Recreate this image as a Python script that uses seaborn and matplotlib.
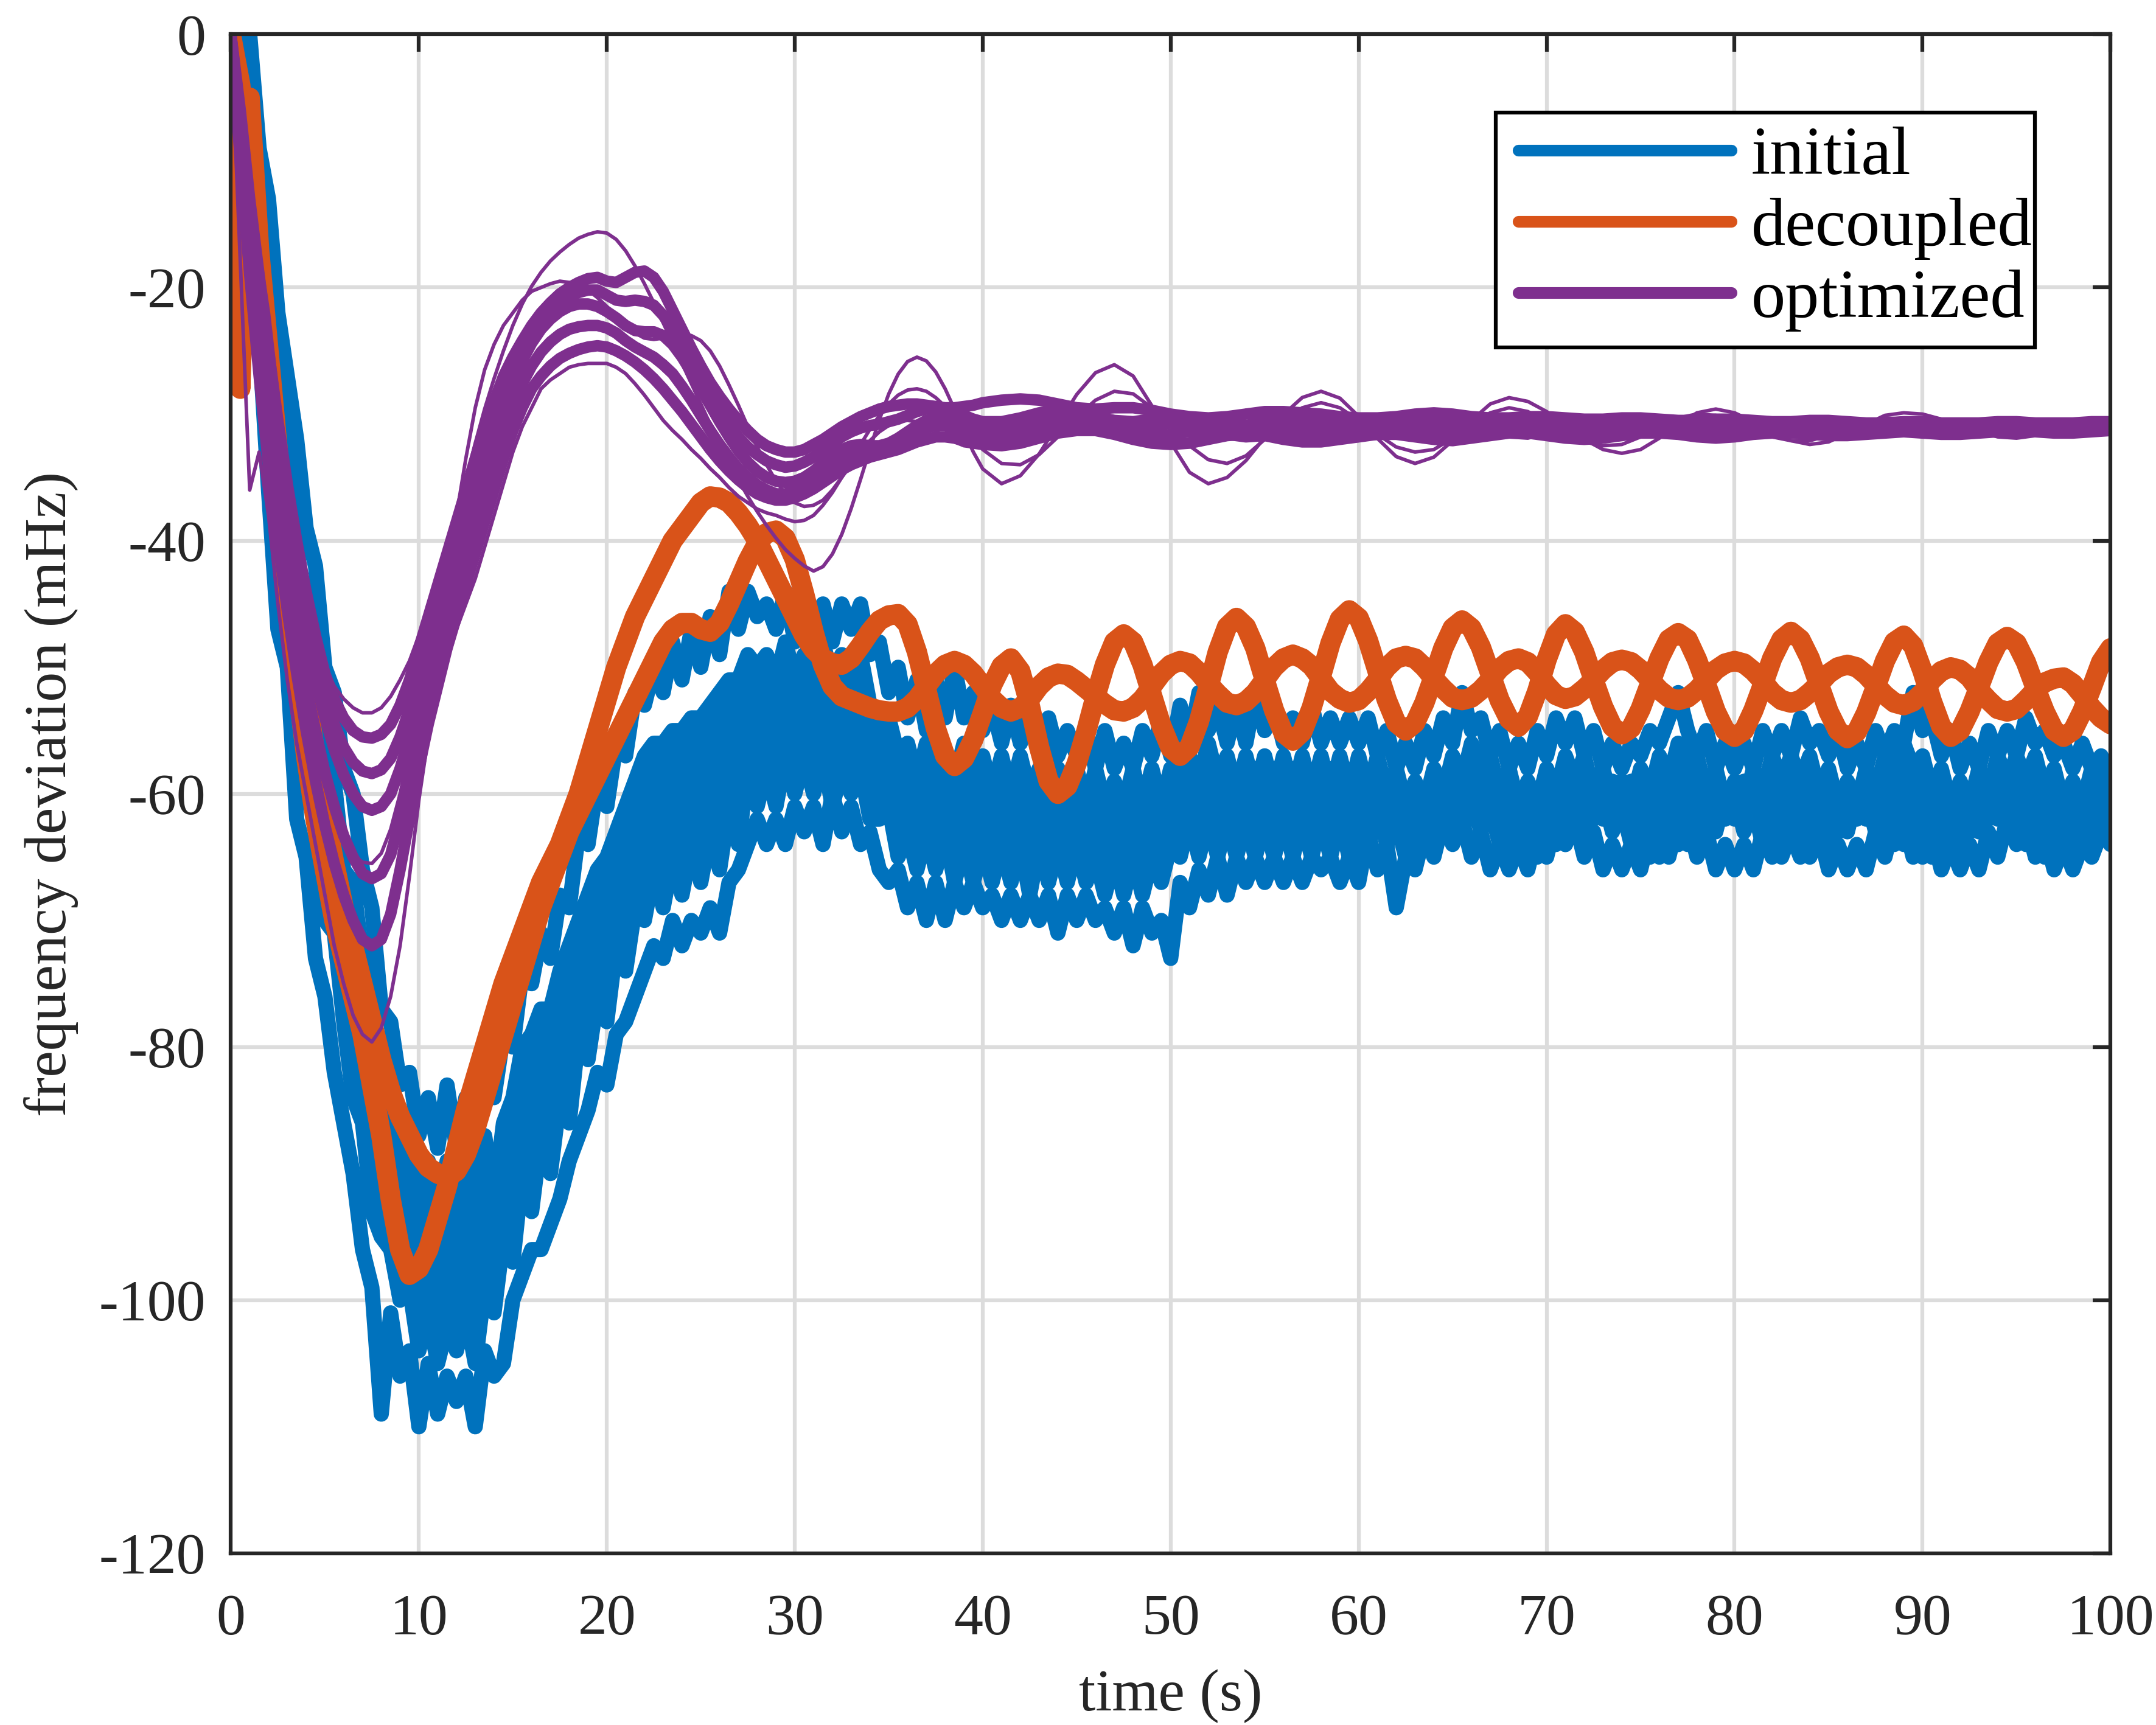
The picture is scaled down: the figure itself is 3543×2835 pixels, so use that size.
import numpy as np
import pandas as pd
import matplotlib
matplotlib.use("Agg")
import matplotlib.pyplot as plt
import seaborn as sns
from matplotlib.lines import Line2D
from matplotlib.patches import Rectangle

# ---------------- data ----------------
# sample grids
time_fine = np.arange(0, 100.5, 0.5)                     # 201 samples
time_purple = np.concatenate([np.arange(0, 40.5, 0.5),   # 81 samples
                              np.arange(41, 101, 1)])    # + 60 samples

series_labels = ["initial", "decoupled", "optimized"]

# ----- initial (blue), 0.5 s samples -----
initial_1 = [
    0, -1, 0, -9, -13, -22, -27, -32, -39, -42, -50, -52, -58, -60, -66, -69, -77, -78, -83, -82,
    -87, -84, -88, -83, -88, -84, -87, -82, -84, -79, -80, -74, -75, -71, -73, -68, -69, -63, -64, -59,
    -61, -56, -57, -52, -53, -50, -52, -48, -51, -47, -50, -46, -49, -44, -47, -44, -46, -45, -47, -44,
    -48, -45, -47, -45, -48, -45, -47, -45, -49, -48, -52, -50, -54, -51, -55, -51, -54, -50, -54, -52,
    -55, -53, -56, -53, -56, -54, -57, -54, -57, -55, -57, -55, -58, -55, -58, -56, -58, -55, -57, -54,
    -57, -53, -56, -52, -55, -53, -56, -53, -56, -52, -55, -53, -56, -54, -56, -53, -56, -54, -56, -54,
    -56, -54, -57, -55, -58, -56, -58, -55, -57, -54, -56, -52, -55, -54, -57, -55, -58, -56, -58, -55,
    -57, -54, -56, -54, -57, -55, -58, -56, -58, -56, -57, -55, -56, -54, -52, -55, -57, -55, -58, -56,
    -58, -56, -58, -55, -57, -55, -57, -54, -56, -55, -57, -55, -58, -56, -58, -55, -57, -55, -56, -52,
    -55, -54, -57, -55, -58, -56, -58, -55, -57, -55, -57, -54, -56, -55, -57, -56, -58, -56, -58, -57,
    -59]
initial_2 = [
    0, -2, -5, -10, -21, -24, -35, -40, -48, -51, -56, -59, -66, -67, -73, -76, -83, -82, -89, -87,
    -92, -89, -94, -89, -93, -88, -93, -87, -92, -86, -84, -80, -79, -77, -77, -74, -72, -70, -68, -66,
    -65, -63, -61, -59, -57, -56, -56, -55, -55, -54, -54, -53, -52, -51, -51, -49, -50, -49, -51, -48,
    -51, -49, -51, -48, -51, -49, -52, -49, -53, -55, -54, -57, -56, -59, -56, -59, -57, -59, -56, -59,
    -57, -60, -57, -60, -57, -60, -58, -61, -58, -61, -58, -61, -58, -61, -59, -61, -58, -61, -58, -61,
    -58, -59, -57, -59, -56, -59, -57, -60, -57, -60, -57, -60, -57, -60, -57, -60, -57, -60, -57, -60,
    -57, -60, -57, -60, -58, -61, -59, -61, -58, -60, -57, -59, -56, -58, -57, -60, -58, -61, -59, -61,
    -58, -60, -57, -59, -57, -60, -58, -61, -59, -61, -58, -60, -57, -59, -56, -58, -57, -60, -58, -61,
    -59, -61, -58, -60, -57, -59, -57, -59, -57, -60, -58, -61, -59, -61, -58, -60, -57, -59, -56, -58,
    -57, -60, -58, -61, -59, -61, -58, -60, -57, -59, -57, -59, -57, -60, -58, -61, -59, -61, -58, -60,
    -58]
initial_3 = [
    0, -3, -8, -17, -22, -34, -37, -50, -52, -60, -60, -68, -68, -76, -76, -84, -85, -92, -91, -97,
    -94, -99, -95, -100, -95, -99, -94, -98, -92, -94, -87, -89, -82, -86, -80, -82, -76, -78, -71, -74,
    -68, -71, -64, -67, -60, -64, -59, -63, -58, -62, -57, -61, -56, -60, -54, -57, -52, -57, -53, -56,
    -53, -56, -52, -57, -53, -56, -53, -58, -55, -56, -60, -58, -62, -59, -63, -59, -62, -59, -63, -60,
    -63, -60, -63, -59, -63, -60, -64, -60, -63, -60, -64, -60, -63, -60, -64, -61, -64, -60, -63, -60,
    -62, -58, -62, -58, -62, -58, -62, -59, -62, -58, -62, -58, -62, -58, -62, -59, -62, -58, -62, -59,
    -62, -59, -63, -60, -63, -61, -64, -62, -64, -61, -63, -60, -62, -59, -61, -59, -62, -60, -63, -61,
    -64, -62, -64, -61, -63, -60, -62, -59, -61, -59, -62, -60, -63, -61, -64, -62, -64, -61, -63, -60,
    -62, -59, -61, -59, -62, -60, -63, -61, -64, -62, -64, -61, -63, -60, -62, -59, -61, -59, -62, -60,
    -63, -61, -64, -62, -64, -61, -63, -60, -62, -59, -61, -59, -62, -60, -63, -61, -64, -62, -63, -61,
    -62]
initial_4 = [
    0, -4, -11, -19, -31, -37, -48, -51, -60, -62, -70, -71, -78, -84, -86, -93, -95, -96, -100, -99,
    -104, -101, -105, -102, -104, -101, -105, -99, -101, -95, -97, -90, -93, -87, -90, -84, -86, -79, -81, -76,
    -78, -72, -74, -69, -70, -66, -69, -65, -68, -64, -67, -63, -66, -61, -64, -58, -61, -58, -61, -57,
    -60, -57, -60, -57, -61, -58, -60, -58, -62, -62, -61, -65, -63, -66, -63, -66, -63, -67, -64, -67,
    -64, -67, -64, -67, -64, -68, -64, -67, -64, -67, -64, -67, -65, -68, -65, -68, -65, -68, -65, -67,
    -64, -65, -62, -65, -62, -65, -62, -65, -62, -65, -62, -65, -62, -65, -62, -65, -62, -65, -62, -65,
    -63, -64, -61, -64, -62, -65, -62, -64, -61, -63, -60, -62, -60, -63, -61, -64, -62, -65, -63, -65,
    -62, -64, -61, -63, -60, -62, -60, -63, -61, -64, -62, -65, -63, -65, -62, -64, -61, -63, -60, -62,
    -60, -63, -61, -64, -62, -65, -63, -65, -62, -64, -61, -63, -60, -62, -60, -63, -61, -64, -62, -65,
    -63, -65, -62, -64, -61, -63, -60, -62, -60, -63, -61, -64, -62, -65, -63, -65, -62, -64, -61, -63,
    -60]
initial_5 = [
    0, -5, -13, -24, -36, -47, -50, -62, -65, -73, -76, -82, -86, -90, -96, -99, -109, -101, -106, -104,
    -110, -105, -109, -106, -108, -106, -110, -104, -106, -105, -100, -98, -96, -96, -94, -92, -89, -87, -85, -82,
    -83, -79, -78, -76, -74, -72, -73, -70, -72, -70, -71, -69, -71, -67, -66, -64, -62, -64, -62, -64,
    -61, -63, -61, -64, -60, -63, -61, -64, -63, -66, -67, -66, -69, -67, -70, -67, -70, -67, -69, -67,
    -69, -68, -70, -68, -70, -68, -70, -68, -71, -68, -70, -68, -70, -69, -71, -69, -72, -69, -71, -70,
    -73, -67, -69, -66, -68, -65, -68, -65, -67, -65, -67, -65, -67, -65, -67, -65, -66, -65, -67, -65,
    -67, -63, -66, -64, -69, -65, -66, -63, -65, -62, -64, -62, -65, -63, -66, -64, -66, -64, -66, -63,
    -65, -62, -64, -62, -65, -63, -66, -64, -66, -64, -66, -63, -65, -62, -64, -62, -65, -63, -66, -64,
    -66, -64, -66, -63, -65, -62, -64, -62, -65, -63, -66, -64, -66, -64, -66, -63, -65, -62, -64, -62,
    -65, -63, -66, -64, -66, -64, -66, -63, -65, -62, -64, -62, -65, -63, -66, -64, -66, -64, -65, -63,
    -64]

# ----- decoupled (orange), 0.5 s samples -----
decoupled_1 = [
    0, -4, -11, -21, -30, -38, -45, -51, -57, -62, -66, -70, -73, -76, -79, -83, -87, -92, -96, -98,
    -97.5, -96, -93.5, -91, -88, -85, -82.5, -80, -77.5, -75, -73, -71, -69, -67, -65.5, -64, -62, -60, -57.5, -55,
    -52.5, -50, -48, -46, -44.5, -43, -41.5, -40, -39, -38, -37, -36.5, -36.6, -37, -37.8, -38.8, -40, -41.5, -43, -44.5,
    -46, -47.5, -48.6, -49.3, -49.7, -49.8, -49.3, -48.3, -47.2, -46.3, -45.9, -45.8, -46.6, -48.8, -51.8, -54.8, -57.0, -57.8, -57.2, -55.7,
    -53.6, -51.4, -49.9, -49.3, -50.3, -53.0, -56.3, -59.0, -60.0, -59.4, -57.6, -55.1, -52.3, -49.8, -48.0, -47.4, -48.0, -49.8, -52.2, -54.6,
    -56.4, -57.0, -56.3, -54.3, -51.6, -48.8, -46.8, -46.1, -46.8, -48.5, -51.0, -53.4, -55.2, -55.8, -55.1, -53.2, -50.7, -48.1, -46.2, -45.5,
    -46.1, -47.9, -50.3, -52.6, -54.4, -55.0, -54.4, -52.8, -50.7, -48.5, -46.9, -46.3, -46.9, -48.4, -50.5, -52.6, -54.1, -54.7, -53.9, -51.9,
    -49.4, -47.4, -46.6, -47.2, -48.8, -51.0, -53.1, -54.7, -55.3, -54.8, -53.3, -51.3, -49.3, -47.8, -47.3, -47.8, -49.4, -51.4, -53.5, -55.0,
    -55.5, -55.0, -53.4, -51.4, -49.3, -47.8, -47.2, -47.8, -49.3, -51.4, -53.5, -55.0, -55.6, -55.1, -53.6, -51.6, -49.5, -48.0, -47.5, -48.3,
    -50.3, -52.7, -54.7, -55.5, -55.0, -53.5, -51.6, -49.6, -48.1, -47.6, -48.1, -49.6, -51.6, -53.5, -55.0, -55.5, -55.0, -53.5, -51.6, -49.6,
    -48.5]
decoupled_2 = [
    0, -28, -5, -17, -25, -33, -40, -46, -52, -57, -61.5, -65.5, -69, -72, -75, -78, -81, -83.5, -85.5, -87,
    -88.5, -89.5, -90, -90.3, -89.8, -88.5, -86.5, -84, -81.5, -79, -76.5, -74, -71.5, -69, -67, -65, -63, -61.5, -60, -58.5,
    -57, -55.5, -54, -52.5, -51, -49.5, -48, -47, -46.5, -46.5, -47, -47.2, -46.5, -45, -43.3, -41.6, -40.2, -39.4, -39.2, -39.8,
    -41.5, -44.2, -47.2, -49.8, -51.5, -52.3, -52.6, -52.9, -53.2, -53.4, -53.5, -53.5, -53.2, -52.5, -51.5, -50.5, -49.8, -49.5, -49.8, -50.5,
    -51.5, -52.5, -53.2, -53.5, -53.2, -52.5, -51.5, -50.8, -50.5, -50.6, -51.1, -51.7, -52.3, -52.9, -53.4, -53.5, -53.2, -52.5, -51.5, -50.5,
    -49.8, -49.5, -49.7, -50.4, -51.3, -52.1, -52.8, -53.0, -52.7, -52.0, -51.0, -50.0, -49.3, -49.0, -49.3, -49.9, -50.9, -51.9, -52.5, -52.8,
    -52.6, -51.9, -51.0, -50.0, -49.3, -49.1, -49.3, -50.0, -50.9, -51.7, -52.4, -52.6, -52.4, -51.8, -51.0, -50.1, -49.5, -49.3, -49.6, -50.4,
    -51.4, -52.2, -52.5, -52.3, -51.7, -51.0, -50.2, -49.6, -49.4, -49.6, -50.2, -51.0, -51.8, -52.4, -52.6, -52.4, -51.8, -51.0, -50.2, -49.7,
    -49.5, -49.7, -50.3, -51.1, -52.0, -52.6, -52.8, -52.6, -52.0, -51.3, -50.5, -50.0, -49.8, -50.0, -50.6, -51.4, -52.2, -52.8, -53.0, -52.7,
    -52.0, -51.0, -50.3, -50.0, -50.2, -50.8, -51.8, -52.6, -53.3, -53.5, -53.3, -52.6, -51.8, -51.2, -50.9, -50.8, -51.3, -52.2, -53.2, -54.0,
    -54.5]

# ----- optimized (purple): 0.5 s samples up to 40 s, then 1 s -----
optimized_core_1 = [
    0, -6, -13, -19, -25, -30.5, -35.5, -40, -44, -47.5, -50.5, -52.5, -54, -55, -55.5, -55.6, -55.3, -54.5, -53, -51,
    -48.5, -46, -43.5, -41, -38.5, -36, -33.5, -31, -29, -27, -25.5, -24.2, -23, -22, -21.2, -20.5, -20, -19.6, -19.3, -19.2,
    -19.5, -19.6, -19.2, -18.8, -18.7, -19.2, -20.3, -21.8, -23.3, -24.8, -26.2, -27.5, -28.6, -29.6, -30.5, -31.3, -32, -32.5, -32.8, -33,
    -33, -32.8, -32.4, -32, -31.5, -31, -30.6, -30.2, -29.9, -29.6, -29.4, -29.3, -29.2, -29.2, -29.3, -29.4, -29.5, -29.5, -29.4, -29.3,
    -29.1,
    -28.9, -28.8, -28.9, -29.2, -29.5, -29.6, -29.5, -29.5, -29.7, -30,
    -30.2, -30.3, -30.2, -30, -29.8, -29.8, -29.9, -30, -30.2, -30.3,
    -30.3, -30.2, -30, -29.9, -30, -30.2, -30.3, -30.3, -30.2, -30.2,
    -30.3, -30.4, -30.4, -30.3, -30.3, -30.4, -30.5, -30.5, -30.4, -30.4,
    -30.5, -30.6, -30.6, -30.5, -30.5, -30.6, -30.7, -30.7, -30.6, -30.6,
    -30.7, -30.7, -30.7, -30.6, -30.6, -30.7, -30.7, -30.7, -30.6, -30.6]
optimized_core_2 = [
    0, -7, -15, -22, -28.5, -34, -39, -43.5, -47.5, -51, -54, -56.5, -58.5, -60, -61, -61.3, -61, -60, -58, -55.5,
    -52.5, -49.5, -46.5, -43.8, -41.2, -38.7, -36.2, -33.8, -31.5, -29.4, -27.5, -25.8, -24.4, -23.3, -22.5, -21.9, -21.5, -21.3, -21.3, -21.5,
    -21.9, -22.4, -23, -23.4, -23.5, -23.5, -23.8, -24.5, -25.5, -26.7, -28, -29.3, -30.6, -31.8, -32.9, -33.8, -34.5, -35, -35.3, -35.4,
    -35.3, -35, -34.5, -33.9, -33.3, -32.8, -32.5, -32.4, -32.5, -32.5, -32.3, -31.9, -31.4, -30.9, -30.5, -30.3, -30.3, -30.5, -30.8, -31.1,
    -31.3,
    -31.4, -31, -30.5, -30.2, -30.3, -30.7, -31.1, -31.2, -31, -30.7,
    -30.6, -30.9, -31.3, -31.4, -31.1, -30.7, -30.5, -30.6, -31, -31.3,
    -31.3, -31, -30.7, -30.7, -30.9, -31.2, -31.3, -31.1, -30.8, -30.8,
    -31, -31.2, -31.2, -31, -30.9, -30.9, -31.1, -31.2, -31.2, -31,
    -30.9, -31, -31.1, -31.2, -31.1, -31, -31, -31.1, -31.1, -31.1,
    -31, -31, -31.1, -31.1, -31, -31, -31, -31.1, -31, -31]
optimized_core_3 = [
    0, -10, -19, -27, -34, -40, -45.5, -50.5, -55, -59, -62.5, -65.5, -68, -70, -71.5, -72, -71.5, -69.5, -66, -62,
    -58, -54.5, -51.5, -48.5, -46, -43.5, -41, -38.5, -36, -33.5, -31.3, -29.5, -28, -27, -26.2, -25.6, -25.2, -24.9, -24.7, -24.6,
    -24.7, -25, -25.4, -25.9, -26.5, -27.2, -28, -28.9, -29.8, -30.8, -31.8, -32.8, -33.7, -34.5, -35.2, -35.8, -36.3, -36.6, -36.8, -36.8,
    -36.6, -36.3, -35.9, -35.4, -34.9, -34.4, -34, -33.7, -33.4, -33.2, -33, -32.8, -32.5, -32.2, -32, -31.8, -31.8, -31.9, -32.1, -32.3,
    -32.4,
    -32.5, -32.3, -31.9, -31.5, -31.3, -31.3, -31.6, -32, -32.3, -32.4,
    -32.3, -32, -31.7, -31.6, -31.7, -32, -32.2, -32.2, -32, -31.8,
    -31.6, -31.6, -31.8, -32, -32.1, -31.9, -31.7, -31.5, -31.5, -31.7,
    -31.9, -32, -31.9, -31.7, -31.5, -31.5, -31.6, -31.8, -31.9, -31.8,
    -31.6, -31.5, -31.5, -31.6, -31.7, -31.7, -31.6, -31.5, -31.4, -31.5,
    -31.6, -31.6, -31.5, -31.4, -31.4, -31.4, -31.5, -31.5, -31.4, -31.3]
optimized_core_4 = [
    0, -6.5, -14, -20.5, -27, -32.5, -37.5, -42, -46, -49.5, -52.5, -54.5, -56.3, -57.5, -58.2, -58.4, -58.1, -57.2, -55.5, -53.3,
    -50.5, -47.7, -45, -42.4, -39.8, -37.3, -34.8, -32.3, -30.2, -28.2, -26.5, -25, -23.7, -22.6, -21.8, -21.1, -20.7, -20.4, -20.2, -20.2,
    -20.6, -21, -21.1, -21, -21.1, -21.4, -22.2, -23.3, -24.6, -26, -27.3, -28.6, -29.8, -30.9, -31.8, -32.6, -33.2, -33.7, -34, -34.2,
    -34.1, -33.8, -33.4, -32.9, -32.3, -31.8, -31.4, -31.1, -30.9, -30.8, -30.6, -30.4, -30.1, -29.8, -29.6, -29.5, -29.6, -29.8, -30.1, -30.4,
    -30.6,
    -30.6, -30.3, -29.9, -29.7, -29.8, -30.2, -30.5, -30.6, -30.4, -30.2,
    -30.3, -30.6, -30.9, -30.9, -30.6, -30.3, -30.2, -30.4, -30.7, -30.9,
    -30.8, -30.5, -30.3, -30.3, -30.5, -30.8, -30.9, -30.7, -30.5, -30.5,
    -30.7, -30.9, -30.9, -30.7, -30.6, -30.7, -30.9, -31, -30.9, -30.7,
    -30.7, -30.8, -30.9, -30.9, -30.8, -30.8, -30.8, -30.9, -30.9, -30.8,
    -30.8, -30.9, -30.9, -30.9, -30.8, -30.8, -30.9, -30.9, -30.8, -30.8]
optimized_core_5 = [
    0, -8.5, -17, -24.5, -31, -37, -42.5, -47, -51.5, -55, -58.3, -61, -63.3, -65, -66.3, -66.7, -66.3, -64.8, -62, -58.8,
    -55.3, -52, -49, -46.2, -43.6, -41.1, -38.6, -36.1, -33.8, -31.5, -29.4, -27.6, -26.2, -25.1, -24.3, -23.7, -23.3, -23.1, -23, -23,
    -23.2, -23.6, -24.2, -24.7, -25.1, -25.5, -26.1, -26.8, -27.8, -28.9, -30.1, -31.3, -32.4, -33.4, -34.3, -35, -35.6, -36, -36.3, -36.3,
    -36.1, -35.7, -35.2, -34.6, -34, -33.5, -33.1, -32.9, -32.8, -32.7, -32.5, -32.2, -31.8, -31.4, -31.1, -30.9, -30.9, -31.1, -31.4, -31.7,
    -31.9,
    -32, -31.7, -31.2, -30.9, -30.8, -31, -31.4, -31.7, -31.8, -31.6,
    -31.4, -31.4, -31.6, -31.8, -31.7, -31.4, -31.3, -31.4, -31.6, -31.7,
    -31.6, -31.4, -31.3, -31.4, -31.6, -31.7, -31.6, -31.4, -31.2, -31.3,
    -31.5, -31.6, -31.6, -31.4, -31.3, -31.3, -31.4, -31.6, -31.6, -31.5,
    -31.3, -31.3, -31.4, -31.5, -31.5, -31.4, -31.3, -31.3, -31.3, -31.4,
    -31.4, -31.4, -31.3, -31.3, -31.2, -31.3, -31.3, -31.3, -31.3, -31.2]
optimized_thin_1 = [
    0, -10, -20, -27, -33, -39, -44, -48.5, -52.5, -56, -59, -61.5, -63.5, -64.8, -65.4, -65.5, -64.7, -62.8, -60, -56.5,
    -52.5, -48.5, -45, -41.5, -38.3, -35.2, -32.3, -29.6, -27.2, -25, -23, -21.3, -19.9, -18.8, -17.9, -17.2, -16.6, -16.1, -15.8, -15.6,
    -15.7, -16.2, -17.1, -18.3, -19.7, -21.2, -22.8, -24.4, -26, -27.6, -29.2, -30.8, -32.3, -33.8, -35.2, -36.5, -37.7, -38.8, -39.8, -40.7,
    -41.4, -42, -42.4, -42.05, -41.06, -39.5, -37.46, -35.15, -32.75, -30.44, -28.4, -26.84, -25.85, -25.5, -25.8, -26.67, -28, -29.63, -31.37, -33,
    -34.33,
    -35.5, -34.87, -33.15, -30.8, -28.45, -26.73, -26.1, -26.99, -29.35, -32.25,
    -34.6, -35.5, -35.01, -33.68, -31.85, -30.03, -28.69, -28.2, -28.74, -30.17,
    -31.93, -33.36, -33.9, -33.4, -32.1, -30.5, -29.2, -28.7, -29.0, -29.8,
    -30.9, -32.0, -32.8, -33.1, -32.8, -31.9, -30.8, -29.9, -29.6, -29.9,
    -30.6, -31.4, -32.1, -32.4, -32.2, -31.5, -30.8, -30.1, -29.9, -30.0,
    -30.4, -30.9, -31.4, -31.8, -31.9, -31.7, -31.4, -31.1, -31.0, -31.0]
optimized_thin_2 = [
    0, -18, -36, -33, -38, -45, -51, -56, -60, -64, -68, -72, -75, -77.5, -79, -79.6, -78.5, -76, -72, -66.5,
    -60.5, -55.5, -52, -49.5, -47, -45, -43, -40.5, -38, -35.5, -33, -31, -29.5, -28, -27.3, -26.8, -26.3, -26.1, -26, -26,
    -26, -26.3, -26.8, -27.6, -28.5, -29.5, -30.5, -31.3, -32, -32.8, -33.5, -34.3, -35, -35.8, -36.5, -37, -37.5, -37.8, -38, -38.3,
    -38.5, -38.4, -38, -37.2, -36.2, -35, -33.7, -32.4, -31.2, -30.1, -29.2, -28.5, -28.1, -28, -28.2, -28.7, -29.4, -30.2, -31.1, -32,
    -32.8,
    -33.9, -34, -33.2, -31.8, -30.2, -28.9, -28.2, -28.4, -29.5, -31,
    -32.5, -33.6, -33.9, -33.3, -32, -30.6, -29.5, -29.1, -29.5, -30.5,
    -31.6, -32.6, -33, -32.8, -31.9, -30.8, -29.9, -29.5, -29.8, -30.6,
    -31.5, -32.2, -32.5, -32.4, -31.8, -31, -30.3, -30, -30.1, -30.6,
    -31.2, -31.8, -32.1, -32.1, -31.7, -31.1, -30.6, -30.3, -30.4, -30.7,
    -31.1, -31.5, -31.7, -31.7, -31.4, -31.1, -30.9, -30.8, -30.9, -31]
optimized_thin_3 = [
    0, -5, -12, -17, -22, -28.5, -35, -40.5, -45, -48, -50, -51.5, -52.5, -53.2, -53.6, -53.6, -53.2, -52.3, -51, -49.5,
    -47.5, -45.8, -44.2, -41.8, -38, -33.5, -29.5, -26.5, -24.5, -23, -22, -21, -20.3, -20, -19.7, -19.5, -19.6, -19.8, -20.2, -20.8,
    -21.5, -22.3, -23, -23.6, -24, -24.1, -24, -23.8, -23.7, -23.8, -24.2, -25, -26.2, -27.7, -29.3, -31, -32.6, -34, -35.3, -36.3,
    -37, -37.3, -37.2, -36.8, -36, -35, -34, -33, -32.1, -31.4, -30.9, -30.6, -30.5, -30.6, -30.9, -31.3, -31.8, -32.2, -32.5, -32.6,
    -32.5,
    -31.9, -31, -30.1, -29.5, -29.4, -29.8, -30.6, -31.5, -32.2, -32.4,
    -32, -31.2, -30.3, -29.7, -29.6, -30, -30.8, -31.6, -32.1, -32.1,
    -31.6, -30.8, -30.1, -29.8, -30, -30.6, -31.3, -31.8, -31.9, -31.5,
    -30.9, -30.4, -30.2, -30.3, -30.8, -31.3, -31.6, -31.6, -31.2, -30.8,
    -30.5, -30.5, -30.7, -31.1, -31.4, -31.4, -31.1, -30.8, -30.6, -30.7,
    -30.9, -31.2, -31.3, -31.2, -31, -30.9, -30.9, -31, -31.1, -31.1]

x_ticks = list(range(0, 101, 10))
y_ticks = list(range(-120, 1, 20))

# ---------------- tidy frames ----------------
def to_frame(series, times, group):
    parts = []
    for name, vals in series.items():
        n = min(len(vals), len(times))
        parts.append(pd.DataFrame({"time": times[:n], "value": vals[:n],
                                   "run": name, "group": group}))
    return pd.concat(parts, ignore_index=True)

df_initial = to_frame({"i1": initial_1, "i2": initial_2, "i3": initial_3,
                       "i4": initial_4, "i5": initial_5}, time_fine, "initial")
df_decoupled = to_frame({"d1": decoupled_1, "d2": decoupled_2}, time_fine, "decoupled")
df_opt_core = to_frame({"c1": optimized_core_1, "c4": optimized_core_4,
                        "c2": optimized_core_2, "c5": optimized_core_5,
                        "c3": optimized_core_3}, time_purple, "optimized")
df_opt_thin = to_frame({"t1": optimized_thin_1, "t2": optimized_thin_2,
                        "t3": optimized_thin_3}, time_purple, "optimized")

# inner envelope of the blue ensemble (the dense core of the bundle)
inner = df_initial[df_initial["run"].isin(["i2", "i3", "i4"])]
env = inner.groupby("time")["value"].agg(["min", "max"]).reset_index()

# ---------------- style ----------------
sns.set_theme(style="white")
plt.rcParams["font.family"] = ["Liberation Serif", "DejaVu Serif"]
plt.rcParams["axes.unicode_minus"] = False

C_BLUE = "#0072BD"
C_ORANGE = "#D95319"
C_PURPLE = "#7E2F8E"
C_TEXT = "#262626"

fig = plt.figure(figsize=(3543 / 300, 2835 / 300), dpi=300)
ax = fig.add_axes([0.1071, 0.0995, 0.8718, 0.8806])

ax.fill_between(env["time"], env["min"], env["max"], color=C_BLUE,
                linewidth=0, zorder=1.5)

common = dict(x="time", y="value", units="run", estimator=None, sort=False,
              legend=False, ax=ax)
sns.lineplot(data=df_initial, color=C_BLUE, linewidth=6.0,
             solid_joinstyle="round", **common)
sns.lineplot(data=df_decoupled, color=C_ORANGE, linewidth=8.0,
             solid_joinstyle="round", **common)
sns.lineplot(data=df_opt_core, color=C_PURPLE, linewidth=4.5,
             solid_joinstyle="round", **common)
sns.lineplot(data=df_opt_thin, color=C_PURPLE, linewidth=1.4,
             solid_joinstyle="round", **common)

ax.set_xlim(0, 100)
ax.set_ylim(-120, 0)
ax.set_xticks(x_ticks)
ax.set_yticks(y_ticks)
ax.set_axisbelow(True)
ax.grid(True, color="#DCDCDC", linewidth=1.5)

for side in ["left", "right", "top", "bottom"]:
    ax.spines[side].set_visible(True)
    ax.spines[side].set_color(C_TEXT)
    ax.spines[side].set_linewidth(1.5)
    ax.spines[side].set_zorder(20)

ax.tick_params(axis="both", which="major", direction="in", length=7, width=1.5,
               top=True, right=True, colors=C_TEXT, labelsize=23,
               labelcolor=C_TEXT)
ax.tick_params(axis="x", pad=16)
ax.tick_params(axis="y", pad=10)

ax.set_xlabel("time (s)", fontsize=23.5, color=C_TEXT, labelpad=9)
ax.set_ylabel("frequency deviation (mHz)", fontsize=23.5, color=C_TEXT, labelpad=8)

# legend: box drawn as a rectangle, entries placed inside it
box = Rectangle((0.673, 0.7939), 0.9599 - 0.673, 0.9485 - 0.7939,
                transform=ax.transAxes, facecolor="white", edgecolor="black",
                linewidth=1.5, zorder=30)
ax.add_patch(box)
handles = [Line2D([0], [0], color=c, linewidth=4.6)
           for c in (C_BLUE, C_ORANGE, C_PURPLE)]
leg = ax.legend(handles, series_labels, loc="upper left",
                bbox_to_anchor=(0.6849, 0.9396), borderaxespad=0.0,
                fontsize=27, handlelength=3.11, handletextpad=0.29,
                labelspacing=0.13, borderpad=0.0, frameon=False)
leg.set_zorder(31)
for t in leg.get_texts():
    t.set_color("black")

fig.savefig("out.png", dpi=300)
